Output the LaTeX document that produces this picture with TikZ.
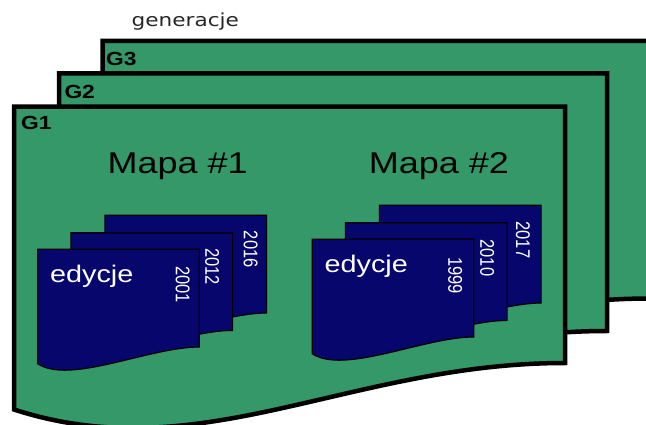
\documentclass[tikz,border=0pt]{standalone}
\usepackage{fontspec}
\setmainfont{Liberation Sans}
\newfontfamily\genfont{DejaVu Sans}
\usepackage{graphicx}

\definecolor{sheetgreen}{RGB}{52,152,104}
\definecolor{docnavy}{RGB}{6,6,108}

% horizontally widened text, and its counterpart for text turned on its side
\newcommand{\wide}[1]{\scalebox{1.2}[1]{#1}}
\newcommand{\tall}[1]{\scalebox{1}[1.2]{#1}}

\tikzset{
  sheet/.style={fill=sheetgreen, draw=black, line width=4.5pt},
  doc/.style={fill=docnavy, draw=black, line width=1.2pt},
  glabel/.style={anchor=base west, inner sep=0pt, font=\fontsize{19}{19}\selectfont\bfseries},
  maplabel/.style={anchor=base, inner sep=0pt, font=\fontsize{30}{30}\selectfont},
  edlabel/.style={anchor=base, inner sep=0pt, text=white, font=\fontsize{24}{24}\selectfont},
  yearlabel/.style={rotate=-90, inner sep=0pt, text=white, font=\fontsize{16.5}{16.5}\selectfont},
}

% generation sheet: left, top, right, y of the lower right corner
\newcommand{\sheetshape}[4]{%
  \draw[sheet] (#1,#2) -- (#3,#2) -- (#3,#4)
    .. controls ({#3-215},#4) and ({#1+186},{#4+107}) .. (#1,{#4+46.5}) -- cycle;}

% edition document: left, top
\newcommand{\docshape}[2]{%
  \draw[doc] (#1,#2) -- ({#1+161.6},#2) -- ({#1+161.6},{#2+97.7})
    .. controls ({#1+111.6},{#2+97.7}) and ({#1+32},{#2+135.7}) .. (#1,{#2+114.4}) -- cycle;}

\begin{document}
\begin{tikzpicture}[x=1pt, y=-1pt]
  \useasboundingbox (0,0) rectangle (646,425);
  \clip (0,0) rectangle (646,425);

  % generations, back to front
  \sheetshape{102.5}{40.8}{650}{298.5}
  \sheetshape{59}{73.3}{607}{331}
  \sheetshape{14}{106.7}{565}{363}

  % editions of the first map
  \docshape{105}{215.3}
  \docshape{71}{232.7}
  \docshape{37.7}{249.3}

  % editions of the second map
  \docshape{379.5}{205.3}
  \docshape{345.5}{222.7}
  \docshape{312.2}{239.3}

  % captions
  \node[anchor=base, inner sep=0pt, text=black!85, font=\genfont\fontsize{18}{18}\selectfont]
    (gen) at (185.3,27) {\wide{generacje}};

  \node[glabel] (g3) at (106,65.7) {\wide{G3}};
  \node[glabel] (g2) at (64.3,99) {\wide{G2}};
  \node[glabel] (g1) at (21,130) {\wide{G1}};

  \node[maplabel] (map1) at (177.7,173.3) {\wide{Mapa \#1}};
  \node[maplabel] (map2) at (439,173.3) {\wide{Mapa \#2}};

  \node[edlabel] (ed1) at (91.7,282.3) {\wide{edycje}};
  \node[edlabel] (ed2) at (366.2,272.3) {\wide{edycje}};

  \node[yearlabel] (y2001) at (182.8,284.7) {\tall{2001}};
  \node[yearlabel] (y2012) at (212.3,266.7) {\tall{2012}};
  \node[yearlabel] (y2016) at (250.7,249.2) {\tall{2016}};

  \node[yearlabel] (y1999) at (455.3,275.8) {\tall{1999}};
  \node[yearlabel] (y2010) at (487.3,258) {\tall{2010}};
  \node[yearlabel] (y2017) at (523,240) {\tall{2017}};
\end{tikzpicture}
\end{document}
